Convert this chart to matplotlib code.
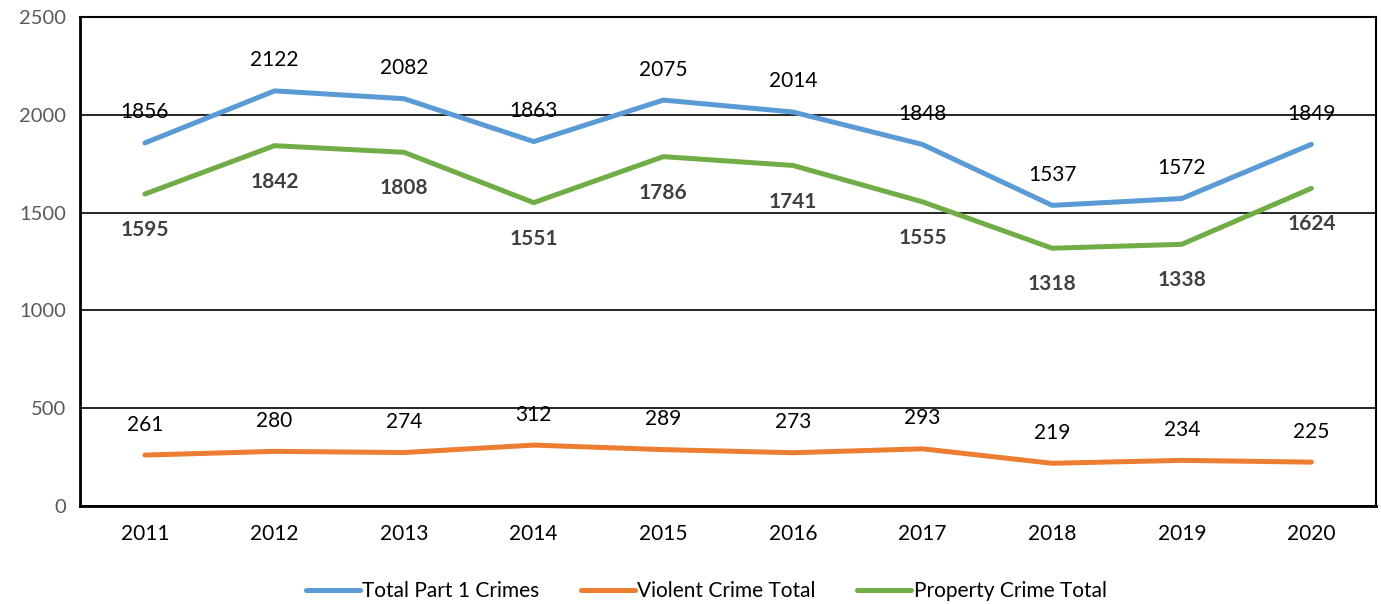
import matplotlib.pyplot as plt

plt.rcParams['font.family'] = ['Lato', 'DejaVu Sans']

years = ['2011', '2012', '2013', '2014', '2015', '2016', '2017', '2018', '2019', '2020']
total = [1856, 2122, 2082, 1863, 2075, 2014, 1848, 1537, 1572, 1849]
violent = [261, 280, 274, 312, 289, 273, 293, 219, 234, 225]
prop = [1595, 1842, 1808, 1551, 1786, 1741, 1555, 1318, 1338, 1624]

fig = plt.figure(figsize=(13.81, 6.04), dpi=100)
ax = fig.add_axes([0.058, 0.162, 0.9385, 0.81])

x = list(range(len(years)))
ax.plot(x, total, color='#5B9BD5', lw=3.6, label='Total Part 1 Crimes', solid_capstyle='round')
ax.plot(x, violent, color='#ED7D31', lw=3.6, label='Violent Crime Total', solid_capstyle='round')
ax.plot(x, prop, color='#70AD47', lw=3.6, label='Property Crime Total', solid_capstyle='round')

# data labels
for i in x:
    ax.annotate(str(total[i]), (i, total[i]), xytext=(0, 22), textcoords='offset points',
                ha='center', va='center', fontsize=15, color='black')
    ax.annotate(str(violent[i]), (i, violent[i]), xytext=(0, 22), textcoords='offset points',
                ha='center', va='center', fontsize=15, color='black')
    ax.annotate(str(prop[i]), (i, prop[i]), xytext=(0, -26), textcoords='offset points',
                ha='center', va='center', fontsize=15, color='#404040', fontweight='bold')

ax.set_xlim(-0.5, 9.5)
ax.set_ylim(0, 2500)
ax.set_yticks([0, 500, 1000, 1500, 2000, 2500])
ax.set_xticks(x)
ax.set_xticklabels(years)
ax.grid(axis='y', color='black', lw=1.2)
ax.set_axisbelow(True)
ax.tick_params(axis='y', length=0, labelsize=14.5, labelcolor='#595959', pad=10)
ax.tick_params(axis='x', length=0, labelsize=15, labelcolor='black', pad=13)
for s in ['left', 'bottom']:
    ax.spines[s].set_linewidth(2)
for s in ['top', 'right']:
    ax.spines[s].set_linewidth(1.5)

ax.legend(loc='upper center', bbox_to_anchor=(0.483, -0.115), ncol=3, frameon=False,
          fontsize=15, handlelength=2.6, handletextpad=0.1, columnspacing=2.0)

fig.savefig('out.png', dpi=100)
